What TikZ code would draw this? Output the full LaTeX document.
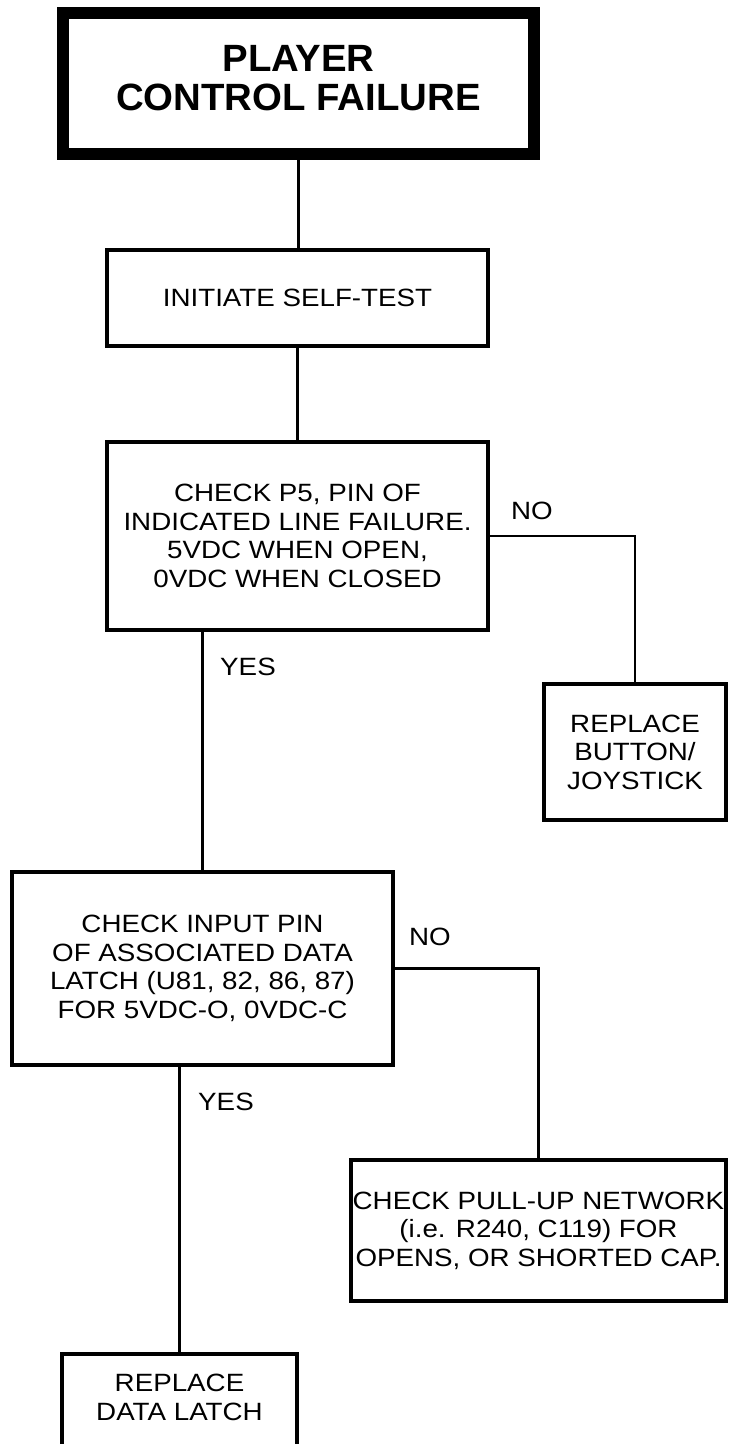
\documentclass[tikz,border=0pt]{standalone}
\usepackage{fontspec}
\setmainfont{Liberation Sans}[FakeStretch=1.11]
\newfontfamily\titlefont{Liberation Sans}[FakeStretch=1.01]
\begin{document}
\begin{tikzpicture}[x=1pt,y=-1pt,
  box/.style={draw, line width=4pt, rectangle, inner sep=0pt, align=center,
    font=\fontsize{25}{28.5}\selectfont},
  titlebox/.style={draw, line width=12pt, rectangle, inner sep=0pt},
  titletext/.style={align=center, inner sep=0pt,
    font=\titlefont\bfseries\fontsize{38}{39}\selectfont},
  conn/.style={line width=2.2pt},
  lbl/.style={inner sep=0pt, font=\fontsize{25}{28.5}\selectfont}]
\clip (0,0) rectangle (729,1444);
\fill[white] (0,0) rectangle (729,1444);

% boxes
\node[titlebox, minimum width=471pt, minimum height=141pt] (title) at (298.5,83.5) {};
\node[titletext] (titletxt) at (298.5,78) {PLAYER\\CONTROL FAILURE};

\node[box, minimum width=381pt, minimum height=96pt] (init) at (297.5,298) {INITIATE SELF-TEST};

\node[box, minimum width=381pt, minimum height=188pt] (p5) at (297.5,536)
  {CHECK P5, PIN OF\\INDICATED LINE FAILURE.\\5VDC WHEN OPEN,\\0VDC WHEN CLOSED};

\node[box, minimum width=182pt, minimum height=136pt] (btn) at (635,752)
  {REPLACE\\BUTTON/\\JOYSTICK};

\node[box, minimum width=381pt, minimum height=193pt] (input) at (202.5,968.5)
  {CHECK INPUT PIN\\OF ASSOCIATED DATA\\LATCH (U81, 82, 86, 87)\\FOR 5VDC-O, 0VDC-C};

\node[box, minimum width=375pt, minimum height=141pt] (pull) at (538.5,1230.5)
  {CHECK PULL-UP NETWORK\\(i.e. R240, C119) FOR\\OPENS, OR SHORTED CAP.};

\node[box, minimum width=235pt, minimum height=120pt, anchor=north] (latch) at (179.5,1352) {};
\node[lbl, align=center] (latchtxt) at (179.5,1397.5) {REPLACE\\DATA LATCH};

% connectors
\draw[conn] (title.south) -- (title.south |- init.north);
\draw[conn] (init.south) -- (init.south |- p5.north);
\draw[conn] (p5.east) -| (btn.north);
\draw[conn] (p5.south -| input.north) -- (input.north);
\draw[conn] (input.east) -| (pull.north);
\draw[conn] (input.south -| latch.north) -- (latch.north);

% labels
\node[lbl] (no1) at (532,511) {NO};
\node[lbl] (yes1) at (248,667) {YES};
\node[lbl] (no2) at (430,937) {NO};
\node[lbl] (yes2) at (226,1102) {YES};
\end{tikzpicture}
\end{document}
